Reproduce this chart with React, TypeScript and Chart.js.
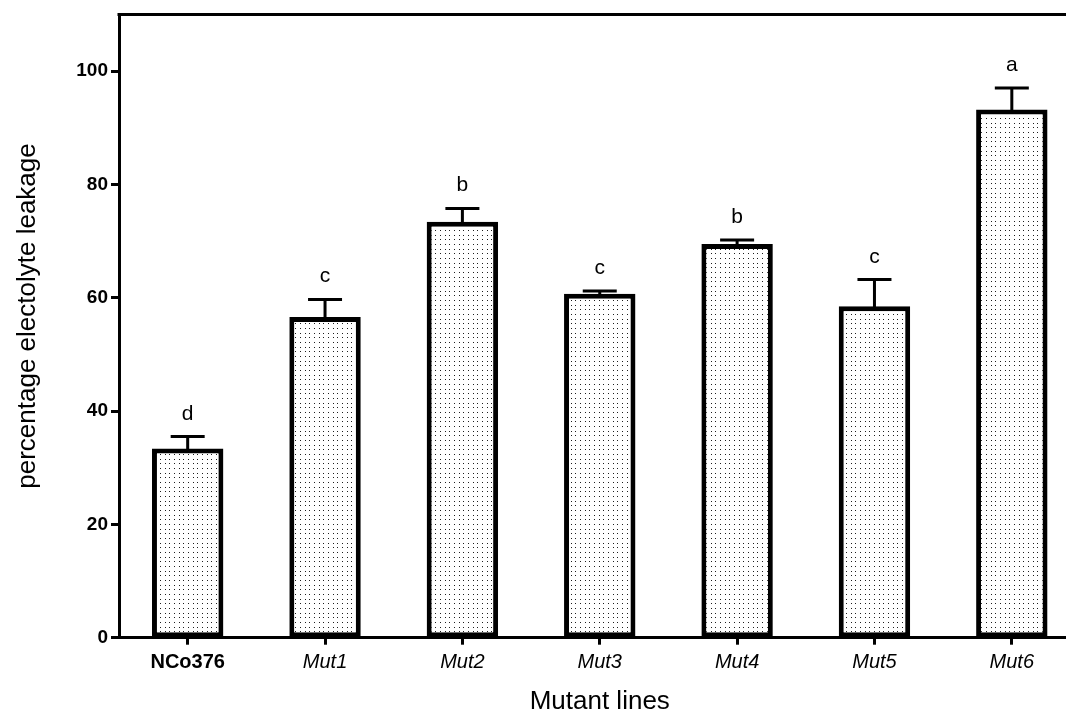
import { useEffect, useRef } from 'react';
import { Chart, registerables } from 'chart.js';

Chart.register(...registerables);

// Electrolyte leakage per line (mean, standard error) and significance groups
const lines = ['NCo376', 'Mut1', 'Mut2', 'Mut3', 'Mut4', 'Mut5', 'Mut6'];
const leakage = [33.4, 56.6, 73.4, 60.7, 69.5, 58.5, 93.2];
const stdErr = [2.1, 3.1, 2.35, 0.5, 0.7, 4.7, 3.8];
const groupLetters = ['d', 'c', 'b', 'c', 'b', 'c', 'a'];
const yTickValues = [0, 20, 40, 60, 80, 100];
const yTitle = 'percentage electolyte leakage';
const xTitle = 'Mutant lines';

const FONT = "'Liberation Sans', Arial, Helvetica, sans-serif";

function makeDotPattern(): CanvasPattern | string {
  const c = document.createElement('canvas');
  c.width = 14;
  c.height = 14;
  const g = c.getContext('2d');
  if (!g) return '#eee';
  g.fillStyle = '#ffffff';
  g.fillRect(0, 0, 14, 14);
  g.fillStyle = '#1e1e1e';
  const steps = [1, 6, 11];
  for (const py of steps) {
    for (const px of steps) {
      g.fillRect(px, py, 1, 1);
    }
  }
  return g.createPattern(c, 'repeat') || '#eee';
}

const errorBarsAndLetters = {
  id: 'errorBarsAndLetters',
  afterDatasetsDraw(chart: any) {
    const { ctx, chartArea, scales } = chart;
    const y = scales.y;
    ctx.save();
    ctx.strokeStyle = '#000';
    ctx.lineWidth = 3;
    // frame line along the top of the plot
    ctx.beginPath();
    ctx.moveTo(chartArea.left - 1.5, chartArea.top);
    ctx.lineTo(chartArea.right, chartArea.top);
    ctx.stroke();

    const meta = chart.getDatasetMeta(0);
    ctx.fillStyle = '#000';
    ctx.font = `21px ${FONT}`;
    ctx.textAlign = 'center';
    ctx.textBaseline = 'alphabetic';
    meta.data.forEach((bar: any, i: number) => {
      const cx = bar.x;
      const yBar = y.getPixelForValue(leakage[i]);
      const yErr = y.getPixelForValue(leakage[i] + stdErr[i]);
      ctx.beginPath();
      ctx.moveTo(cx, yBar + 3);
      ctx.lineTo(cx, yErr);
      ctx.moveTo(cx - 17, yErr);
      ctx.lineTo(cx + 17, yErr);
      ctx.stroke();
      ctx.fillText(groupLetters[i], cx, yErr - 17);
    });

    // vertical axis title
    ctx.save();
    ctx.translate(28, 316);
    ctx.rotate(-Math.PI / 2);
    ctx.font = `26px ${FONT}`;
    ctx.textBaseline = 'middle';
    ctx.fillText(yTitle, 0, 0);
    ctx.restore();
    ctx.restore();
  },
};

export default function App() {
  const canvasRef = useRef<HTMLCanvasElement | null>(null);

  useEffect(() => {
    const canvas = canvasRef.current;
    if (!canvas) return;
    const chart = new Chart(canvas, {
      type: 'bar',
      data: {
        labels: lines,
        datasets: [
          {
            data: leakage,
            backgroundColor: makeDotPattern() as any,
            borderColor: '#000',
            borderWidth: 5,
            borderSkipped: false,
            barPercentage: 0.52,
            categoryPercentage: 1,
          },
        ],
      },
      options: {
        responsive: false,
        animation: false,
        devicePixelRatio: 1,
        layout: { padding: { left: 0, top: 14, right: 19.5, bottom: 0 } },
        plugins: {
          legend: { display: false },
          tooltip: { enabled: false },
        },
        scales: {
          x: {
            type: 'category',
            offset: true,
            grid: {
              display: true,
              offset: false,
              drawOnChartArea: false,
              drawTicks: true,
              tickLength: 7,
              tickWidth: 3,
              tickColor: '#000',
            },
            border: { display: true, color: '#000', width: 3 },
            ticks: {
              autoSkip: false,
              maxRotation: 0,
              padding: 6,
              color: '#000',
              font: (c: any) =>
                c.index === 0
                  ? { family: FONT, size: 20, weight: 'bold' }
                  : { family: FONT, size: 20, style: 'italic' },
            },
            title: {
              display: true,
              text: xTitle,
              color: '#000',
              font: { family: FONT, size: 26, lineHeight: 0.85 },
              padding: 0,
            },
            afterFit: (s: any) => {
              s.height = 75.3;
            },
          },
          y: {
            type: 'linear',
            min: 0,
            max: 110,
            grid: {
              display: true,
              drawOnChartArea: false,
              drawTicks: true,
              tickLength: 8,
              tickWidth: 3,
              tickColor: '#000',
            },
            border: { display: true, color: '#000', width: 3 },
            afterBuildTicks: (s: any) => {
              s.ticks = yTickValues.map((v) => ({ value: v }));
            },
            ticks: {
              padding: 3,
              color: '#000',
              font: { family: FONT, size: 19, weight: 'bold' },
            },
            title: { display: false },
            afterFit: (s: any) => {
              s.width = 119;
            },
          },
        },
      },
      plugins: [errorBarsAndLetters],
    });
    return () => chart.destroy();
  }, []);

  return (
    <div
      style={{
        position: 'absolute',
        left: 0,
        top: 0,
        width: 1066,
        height: 713,
        overflow: 'hidden',
        background: '#fff',
      }}
    >
      <canvas ref={canvasRef} width={1100} height={713} style={{ display: 'block' }} />
    </div>
  );
}
